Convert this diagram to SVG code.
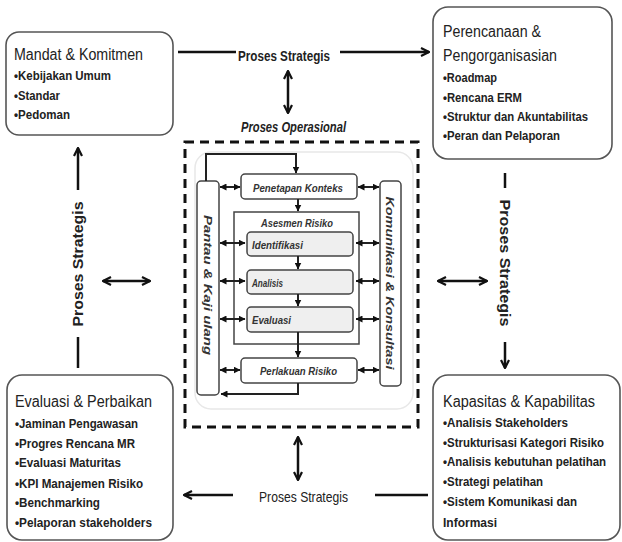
<svg xmlns="http://www.w3.org/2000/svg" width="622" height="542" viewBox="0 0 622 542">
<defs>
<style>
.box{fill:#fff;stroke:#555;stroke-width:1.6}
.t{font-family:"Liberation Sans",Arial,sans-serif;fill:#222}
.title{font-size:16px}
.b{font-size:13.5px;font-weight:bold}
.ps{font-size:15px;font-weight:bold}
.conn{stroke:#111;stroke-width:2.5;fill:none}
.in{stroke:#222;stroke-width:2;fill:none}
.ib{fill:#fff;stroke:#444;stroke-width:1.5}
.gb{fill:#efefef;stroke:#444;stroke-width:1.5}
.it{font-size:11.5px;font-style:italic;font-weight:bold;fill:#333}
</style>
<marker id="chev" markerUnits="userSpaceOnUse" viewBox="0 0 10 10" refX="9" refY="5" markerWidth="10" markerHeight="10" orient="auto-start-reverse">
<path d="M1,1 L9,5 L1,9" fill="none" stroke="#111" stroke-width="2.2"/>
</marker>
<marker id="tri" markerUnits="userSpaceOnUse" viewBox="0 0 7 7" refX="6.5" refY="3.5" markerWidth="7" markerHeight="7" orient="auto-start-reverse">
<path d="M0,0 L7,3.5 L0,7 z" fill="#111"/>
</marker>
</defs>
<rect width="622" height="542" fill="#fff"/>

<g id="connectors">
<line class="conn" x1="178" y1="52" x2="236" y2="52"/>
<line class="conn" x1="340" y1="52" x2="429" y2="52" marker-end="url(#chev)"/>
<line class="conn" x1="288" y1="71" x2="288" y2="113" marker-start="url(#chev)" marker-end="url(#chev)"/>
<line class="conn" x1="78" y1="190" x2="78" y2="148" marker-end="url(#chev)"/>
<line class="conn" x1="78" y1="337" x2="78" y2="368"/>
<line class="conn" x1="103" y1="281" x2="150" y2="281" marker-start="url(#chev)" marker-end="url(#chev)"/>
<line class="conn" x1="505" y1="173" x2="505" y2="188"/>
<line class="conn" x1="505" y1="342" x2="505" y2="368" marker-end="url(#chev)"/>
<line class="conn" x1="438" y1="281" x2="487" y2="281" marker-start="url(#chev)" marker-end="url(#chev)"/>
<line class="conn" x1="298" y1="437" x2="298" y2="480" marker-start="url(#chev)" marker-end="url(#chev)"/>
<line class="conn" x1="233" y1="495" x2="184" y2="495" marker-end="url(#chev)"/>
<line class="conn" x1="375" y1="495" x2="428" y2="495"/>
<text class="t ps" x="238" y="61" textLength="92" lengthAdjust="spacingAndGlyphs">Proses Strategis</text>
<text class="t" x="259" y="502" font-size="15" textLength="89" lengthAdjust="spacingAndGlyphs">Proses Strategis</text>
<text class="t ps" transform="translate(78,264) rotate(-90)" text-anchor="middle" dy="5" textLength="125" lengthAdjust="spacingAndGlyphs">Proses Strategis</text>
<text class="t ps" transform="translate(505,263) rotate(90)" text-anchor="middle" dy="5" textLength="127" lengthAdjust="spacingAndGlyphs">Proses Strategis</text>
</g>

<g id="mandat">
<rect class="box" x="6" y="32" width="167" height="103" rx="13"/>
<text class="t title" x="14" y="60" textLength="129" lengthAdjust="spacingAndGlyphs">Mandat &amp; Komitmen</text>
<text class="t b" x="14" y="80" textLength="97" lengthAdjust="spacingAndGlyphs">•Kebijakan Umum</text>
<text class="t b" x="14" y="100" textLength="46" lengthAdjust="spacingAndGlyphs">•Standar</text>
<text class="t b" x="14" y="119" textLength="56" lengthAdjust="spacingAndGlyphs">•Pedoman</text>
</g>

<g id="perencanaan">
<rect class="box" x="433" y="7" width="179" height="152" rx="15"/>
<text class="t title" x="443" y="37" textLength="98" lengthAdjust="spacingAndGlyphs">Perencanaan &amp;</text>
<text class="t title" x="443" y="61" textLength="114" lengthAdjust="spacingAndGlyphs">Pengorganisasian</text>
<text class="t b" x="443" y="82" textLength="54" lengthAdjust="spacingAndGlyphs">•Roadmap</text>
<text class="t b" x="443" y="102" textLength="79" lengthAdjust="spacingAndGlyphs">•Rencana  ERM</text>
<text class="t b" x="443" y="121" font-size="12.5" textLength="145" lengthAdjust="spacingAndGlyphs">•Struktur dan Akuntabilitas</text>
<text class="t b" x="443" y="140" textLength="117" lengthAdjust="spacingAndGlyphs">•Peran dan Pelaporan</text>
</g>

<g id="evaluasi">
<rect class="box" x="7" y="375" width="166" height="165" rx="15"/>
<text class="t title" x="15" y="407" textLength="137" lengthAdjust="spacingAndGlyphs">Evaluasi &amp; Perbaikan</text>
<text class="t b" x="15" y="428" textLength="123" lengthAdjust="spacingAndGlyphs">•Jaminan Pengawasan</text>
<text class="t b" x="15" y="448" textLength="120" lengthAdjust="spacingAndGlyphs">•Progres Rencana MR</text>
<text class="t b" x="15" y="467" textLength="106" lengthAdjust="spacingAndGlyphs">•Evaluasi  Maturitas</text>
<text class="t b" x="15" y="488" textLength="128" lengthAdjust="spacingAndGlyphs">•KPI  Manajemen Risiko</text>
<text class="t b" x="15" y="507" textLength="85" lengthAdjust="spacingAndGlyphs">•Benchmarking</text>
<text class="t b" x="15" y="527" textLength="137" lengthAdjust="spacingAndGlyphs">•Pelaporan stakeholders</text>
</g>

<g id="kapasitas">
<rect class="box" x="433" y="375" width="187" height="165" rx="15"/>
<text class="t title" x="443" y="407" textLength="152" lengthAdjust="spacingAndGlyphs">Kapasitas &amp; Kapabilitas</text>
<text class="t b" x="443" y="427" textLength="125" lengthAdjust="spacingAndGlyphs">•Analisis  Stakeholders</text>
<text class="t b" transform="translate(443,447) scale(0.7,1)" x="0" y="0" textLength="230" lengthAdjust="spacingAndGlyphs">•Strukturisasi Kategori Risiko</text>
<text class="t b" transform="translate(443,466) scale(0.7,1)" x="0" y="0" textLength="233" lengthAdjust="spacingAndGlyphs">•Analisis  kebutuhan pelatihan</text>
<text class="t b" x="443" y="486" textLength="100" lengthAdjust="spacingAndGlyphs">•Strategi pelatihan</text>
<text class="t b" x="443" y="506" textLength="134" lengthAdjust="spacingAndGlyphs">•Sistem Komunikasi dan</text>
<text class="t b" x="443" y="527" textLength="54" lengthAdjust="spacingAndGlyphs">Informasi</text>
</g>

<g id="operasional">
<text class="t" x="241" y="132" font-size="14" font-style="italic" font-weight="bold" fill="#333" textLength="105" lengthAdjust="spacingAndGlyphs">Proses Operasional</text>
<rect x="185" y="142" width="233" height="285" fill="none" stroke="#111" stroke-width="3" stroke-dasharray="9,6"/>
<rect x="195" y="152" width="218" height="257" rx="16" fill="none" stroke="#e8e8e8" stroke-width="1.5"/>
</g>

<g id="pantau">
<rect class="ib" x="197" y="181" width="22" height="214" rx="4"/>
<text class="t it" transform="translate(208,285) rotate(90)" text-anchor="middle" dy="4" textLength="140" lengthAdjust="spacingAndGlyphs">Pantau &amp; Kaji ulang</text>
</g>

<g id="komunikasi">
<rect class="ib" x="380" y="181" width="21" height="205" rx="4"/>
<text class="t it" transform="translate(390,283) rotate(90)" text-anchor="middle" dy="4" textLength="173" lengthAdjust="spacingAndGlyphs">Komunikasi &amp; Konsultasi</text>
</g>

<g id="penetapan">
<rect class="ib" x="241" y="174" width="116" height="25" rx="4"/>
<text class="t it" x="253" y="192" textLength="90" lengthAdjust="spacingAndGlyphs">Penetapan Konteks</text>
</g>

<g id="asesmen">
<rect x="234" y="212" width="125" height="132" fill="none" stroke="#444" stroke-width="1.5"/>
<text class="t it" x="261" y="227" textLength="72" lengthAdjust="spacingAndGlyphs">Asesmen  Risiko</text>
</g>

<g id="identifikasi">
<rect class="gb" x="247" y="232" width="106" height="24" rx="4"/>
<text class="t it" x="252" y="249" textLength="51" lengthAdjust="spacingAndGlyphs">Identifikasi</text>
</g>

<g id="analisis">
<rect class="gb" x="247" y="270" width="106" height="24" rx="4"/>
<text class="t it" x="252" y="287" textLength="31" lengthAdjust="spacingAndGlyphs">Analisis</text>
</g>

<g id="evaluasi-risiko">
<rect class="gb" x="247" y="307" width="106" height="25" rx="4"/>
<text class="t it" x="252" y="324" textLength="39" lengthAdjust="spacingAndGlyphs">Evaluasi</text>
</g>

<g id="perlakuan">
<rect class="ib" x="241" y="358" width="116" height="25" rx="4"/>
<text class="t it" x="260" y="375" textLength="77" lengthAdjust="spacingAndGlyphs">Perlakuan Risiko</text>
</g>

<g id="inner-connectors">
<path class="in" d="M206,181 V154 H296 V173" marker-end="url(#tri)"/>
<line class="in" x1="298" y1="199" x2="298" y2="211" marker-end="url(#tri)"/>
<line class="in" x1="298" y1="256" x2="298" y2="269" marker-end="url(#tri)"/>
<line class="in" x1="298" y1="294" x2="298" y2="306" marker-end="url(#tri)"/>
<line class="in" x1="298" y1="332" x2="298" y2="357" marker-end="url(#tri)"/>
<path class="in" d="M298,383 V394 H221" marker-end="url(#tri)"/>
<line class="in" x1="220" y1="187" x2="240" y2="187" marker-start="url(#tri)" marker-end="url(#tri)"/>
<line class="in" x1="220" y1="243" x2="245" y2="243" marker-start="url(#tri)" marker-end="url(#tri)"/>
<line class="in" x1="220" y1="281" x2="245" y2="281" marker-start="url(#tri)" marker-end="url(#tri)"/>
<line class="in" x1="220" y1="319" x2="245" y2="319" marker-start="url(#tri)" marker-end="url(#tri)"/>
<line class="in" x1="220" y1="370" x2="240" y2="370" marker-start="url(#tri)" marker-end="url(#tri)"/>
<line class="in" x1="358" y1="187" x2="379" y2="187" marker-start="url(#tri)" marker-end="url(#tri)"/>
<line class="in" x1="356" y1="243" x2="379" y2="243" marker-start="url(#tri)" marker-end="url(#tri)"/>
<line class="in" x1="356" y1="281" x2="379" y2="281" marker-start="url(#tri)" marker-end="url(#tri)"/>
<line class="in" x1="356" y1="319" x2="379" y2="319" marker-start="url(#tri)" marker-end="url(#tri)"/>
<line class="in" x1="358" y1="370" x2="379" y2="370" marker-start="url(#tri)" marker-end="url(#tri)"/>
</g>
</svg>
